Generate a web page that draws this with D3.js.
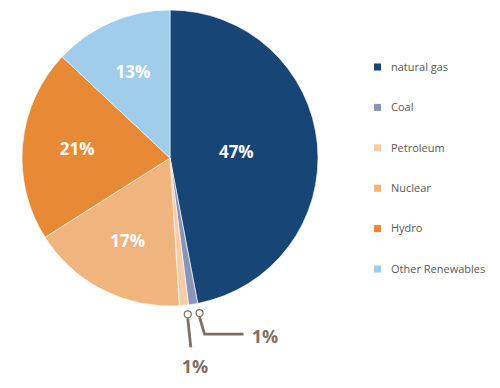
<!DOCTYPE html>
<html>
<head>
<meta charset="utf-8">
<script src="https://cdn.jsdelivr.net/npm/d3@7"></script>
<style>
    body { margin: 0; background: #fff; }
    #chart { width: 500px; height: 388px; }
    text { font-family: "Open Sans", sans-serif; }
</style>
</head>
<body>
<div id="chart"></div>
<script>
// DATA
const sources = ["natural gas", "Coal", "Petroleum", "Nuclear", "Hydro", "Other Renewables"];
const shares = [47, 1, 1, 17, 21, 13];
const colors = ["#174676", "#8b95b9", "#f7cda7", "#f0b47f", "#e88935", "#a0cdec"];

function render() {
    const width = 500;
    const height = 388;
    const cx = 170;
    const cy = 158;
    const radius = 148;

    const svg = d3.select('#chart').append('svg')
        .attr('width', width)
        .attr('height', height);

    const color = d3.scaleOrdinal().domain(sources).range(colors);

    const pie = d3.pie().sort(null).value(function (d, i) { return shares[i]; });
    const arcs = pie(sources);

    const arc = d3.arc().innerRadius(0).outerRadius(radius);
    const labelArc = d3.arc().innerRadius(radius * 0.63).outerRadius(radius * 0.63);
    const bigLabelArc = d3.arc().innerRadius(radius * 0.45).outerRadius(radius * 0.45);

    const wheel = svg.append('g')
        .attr('transform', `translate(${cx},${cy})`);

    wheel.selectAll('path')
        .data(arcs)
        .enter()
        .append('path')
        .attr('d', arc)
        .attr('fill', function (d) { return color(d.data); })
        .attr('stroke', '#fff')
        .attr('stroke-width', 0.6);

    // inside labels for the big slices
    wheel.selectAll('text.inside')
        .data(arcs.filter(function (d) { return d.value > 5; }))
        .enter()
        .append('text')
        .attr('class', 'inside')
        .attr('transform', function (d) {
            const c = (d.value > 40 ? bigLabelArc : labelArc).centroid(d);
            return `translate(${c[0]},${c[1]})`;
        })
        .attr('text-anchor', 'middle')
        .attr('dy', '0.35em')
        .style('font-size', '17px')
        .style('font-weight', '700')
        .style('fill', '#fff')
        .text(function (d) { return d.value + '%'; });

    // callouts for the tiny slices
    const small = arcs.filter(function (d) { return d.value <= 5; });
    const pointR = radius + 9;
    const callColor = '#7d7064';
    const callouts = [
        { slice: small[1], nudge: 3, path: function (p) { return [[p[0], p[1] + 4], [p[0] + 3, p[1] + 33]]; }, tx: 195, ty: 367 },
        { slice: small[0], nudge: 5, path: function (p) { return [[p[0], p[1] + 4], [p[0] + 5, p[1] + 21], [p[0] + 44, p[1] + 21]]; }, tx: 265, ty: 337 }
    ];
    const line = d3.line();

    callouts.forEach(function (c) {
        const mid = (c.slice.startAngle + c.slice.endAngle) / 2;
        const p = [cx + Math.sin(mid) * pointR + c.nudge, cy - Math.cos(mid) * pointR];
        svg.append('path')
            .attr('d', line(c.path(p)))
            .attr('fill', 'none')
            .attr('stroke', callColor)
            .attr('stroke-width', 2.8);
        svg.append('circle')
            .attr('cx', p[0])
            .attr('cy', p[1])
            .attr('r', 3.5)
            .attr('fill', '#fff')
            .attr('stroke', callColor)
            .attr('stroke-width', 1.2);
        svg.append('text')
            .attr('x', c.tx)
            .attr('y', c.ty)
            .attr('text-anchor', 'middle')
            .attr('dy', '0.35em')
            .style('font-size', '18px')
            .style('font-weight', '700')
            .style('fill', callColor)
            .text(c.slice.value + '%');
    });

    // legend
    const legendY = d3.scalePoint().domain(sources).range([67, 269]);
    const legend = svg.append('g').attr('class', 'legend');
    const items = legend.selectAll('g')
        .data(sources)
        .enter()
        .append('g')
        .attr('transform', function (d) { return `translate(374,${legendY(d)})`; });

    items.append('rect')
        .attr('x', 0)
        .attr('y', -3.5)
        .attr('width', 7)
        .attr('height', 7)
        .attr('fill', function (d) { return color(d); });

    items.append('text')
        .attr('x', 17)
        .attr('dy', '0.35em')
        .style('font-size', '11px')
        .style('fill', '#5a5a5a')
        .text(function (d) { return d; });
}

window.onload = render;
</script>
</body>
</html>
